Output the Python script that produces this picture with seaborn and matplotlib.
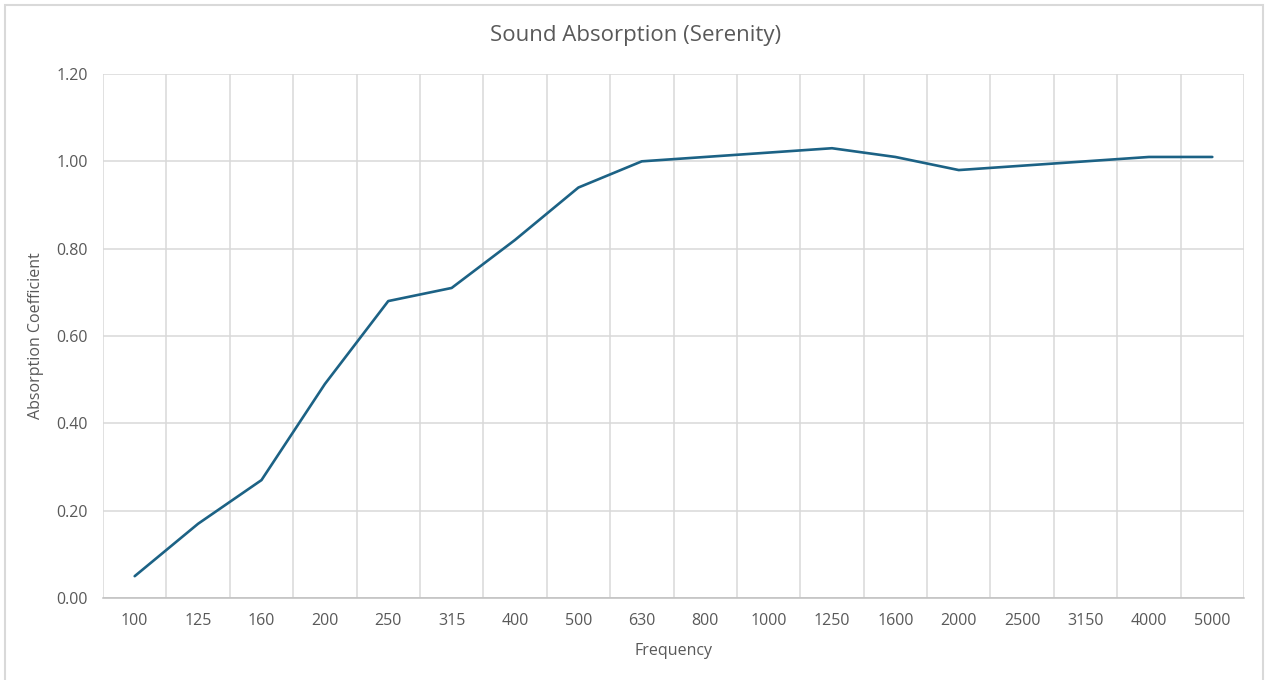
import numpy as np
import pandas as pd
import matplotlib
matplotlib.use("Agg")
import matplotlib.pyplot as plt
import seaborn as sns
from matplotlib.patches import Rectangle
from matplotlib.ticker import MultipleLocator, FuncFormatter

# data
frequencies = ["100", "125", "160", "200", "250", "315", "400", "500", "630",
               "800", "1000", "1250", "1600", "2000", "2500", "3150", "4000", "5000"]
absorption = [0.05, 0.17, 0.27, 0.49, 0.68, 0.71, 0.82, 0.94, 1.00,
              1.01, 1.02, 1.03, 1.01, 0.98, 0.99, 1.00, 1.01, 1.01]

df = pd.DataFrame({"Frequency": frequencies, "Absorption": absorption})

sns.set_theme(style="white")
plt.rcParams["font.family"] = ["Open Sans", "DejaVu Sans"]

text_color = "#595959"
grid_color = "#d9d9d9"
line_color = "#1c6285"

W, H = 1271, 680
fig = plt.figure(figsize=(W / 100, H / 100), dpi=100)
ax = fig.add_axes([103 / W, 1 - 598 / H, (1244 - 103) / W, (598 - 74) / H])

sns.lineplot(data=df, x="Frequency", y="Absorption", ax=ax,
             color=line_color, linewidth=1.9, sort=False)

ax.set_xlim(-0.5, len(frequencies) - 0.5)
ax.set_ylim(0, 1.2)
ax.yaxis.set_major_locator(MultipleLocator(0.2))
ax.yaxis.set_major_formatter(FuncFormatter(lambda v, _: f"{v:.2f}"))

# vertical gridlines sit between categories, like Excel
ax.set_xticks(np.arange(len(frequencies)))
ax.set_xticklabels(frequencies)
ax.set_xticks(np.arange(-0.5, len(frequencies)), minor=True)
ax.grid(True, axis="y", which="major", color=grid_color, linewidth=1.1)
ax.grid(True, axis="x", which="minor", color=grid_color, linewidth=1.1)
ax.grid(False, axis="x", which="major")

for side in ["top", "right", "left"]:
    ax.spines[side].set_visible(False)
ax.spines["bottom"].set_color("#bfbfbf")
ax.spines["bottom"].set_linewidth(1.1)

ax.tick_params(axis="both", which="both", length=0, labelsize=11.5, labelcolor=text_color)
ax.tick_params(axis="y", pad=11)
ax.tick_params(axis="x", pad=11)

ax.set_xlabel("Frequency", fontsize=11.5, color=text_color, labelpad=10)
ax.set_ylabel("Absorption Coefficient", fontsize=11.5, color=text_color, labelpad=9)

fig.text(0.5, 1 - 35 / H, "Sound Absorption (Serenity)", ha="center", va="center",
         fontsize=16, color=text_color)

# light chart-area border
fig.patches.append(Rectangle((4.5 / W, -0.05), (1263 - 4.5) / W, 1.05 - 5 / H,
                             transform=fig.transFigure, fill=False,
                             edgecolor=grid_color, linewidth=1.5))

fig.savefig("out.png", dpi=100, facecolor="white")
